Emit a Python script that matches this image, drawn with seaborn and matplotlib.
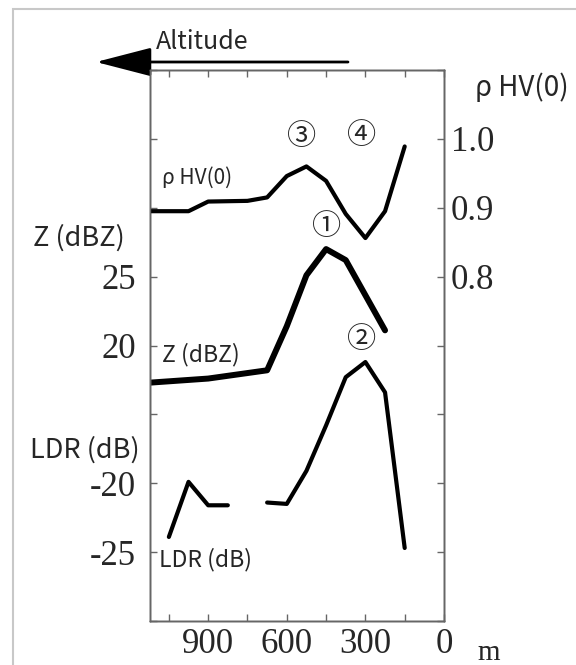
import numpy as np
import pandas as pd
import matplotlib
matplotlib.use('Agg')
import matplotlib.pyplot as plt
from matplotlib.patches import Rectangle
import seaborn as sns

# ── Data ──────────────────────────────────────────────────────────────────────
rho_alt = [1125, 975, 900, 750, 675, 600, 525, 450, 375, 300, 225, 150]
rho_val = [0.895, 0.895, 0.909, 0.910, 0.915, 0.946, 0.960, 0.939, 0.891, 0.856, 0.895, 0.989]

z_alt = [1125, 900, 675, 600, 525, 450, 375, 225]
z_val = [17.3, 17.6, 18.2, 21.4, 25.1, 27.0, 26.2, 21.1]

ldr_alt = [1050, 975, 900, 825, 675, 600, 525, 450, 375, 300, 225, 150]
ldr_val = [-23.9, -19.9, -21.6, -21.6, -21.4, -21.5, -19.1, -15.8, -12.3, -11.2, -13.4, -24.7]
ldr_seg = [1, 1, 1, 1, 2, 2, 2, 2, 2, 2, 2, 2]

x_ticks = [1050, 900, 750, 600, 450, 300, 150, 0]
x_labels = ['', '900', '', '600', '', '300', '', '0']
z_ticks = [0, 5, 10, 15, 20, 25, 30, 35, 40]
z_labels = ['', '', '', '', '20', '25', '', '', '']
ldr_ticks = [-25, -20]
rho_ticks = [0.3, 0.4, 0.5, 0.6, 0.7, 0.8, 0.9, 1.0, 1.1]
rho_labels = ['', '', '', '', '', '0.8', '0.9', '1.0', '']

rho_df = pd.DataFrame({'alt': rho_alt, 'rho': rho_val})
z_df = pd.DataFrame({'alt': z_alt, 'z': z_val})
ldr_df = pd.DataFrame({'alt': ldr_alt, 'ldr': ldr_val, 'seg': ldr_seg})

# ── Style ─────────────────────────────────────────────────────────────────────
sns.set_theme(style='ticks')
plt.rcParams['font.family'] = ['Noto Sans CJK JP', 'DejaVu Sans']
SERIF = ['Liberation Serif', 'DejaVu Serif']
SPINE = '#666666'
TICK_FS = 25

fig = plt.figure(figsize=(5.76, 6.65), dpi=100)
fig.patch.set_facecolor('white')
ax = fig.add_axes([150 / 576, 44 / 665, 294 / 576, 551 / 665])
ax_ldr = ax.twinx()
ax_rho = ax.twinx()

sns.lineplot(data=z_df, x='alt', y='z', ax=ax, color='black', lw=4.3,
             estimator=None, sort=False)
sns.lineplot(data=ldr_df, x='alt', y='ldr', units='seg', estimator=None,
             sort=False, ax=ax_ldr, color='black', lw=3.0)
sns.lineplot(data=rho_df, x='alt', y='rho', ax=ax_rho, color='black', lw=3.0,
             estimator=None, sort=False)

ax.set_xlim(1122, 0)
ax.set_ylim(0, 40)
ax_ldr.set_ylim(-30, 10)
ax_rho.set_ylim(0.3, 1.1)
for a in (ax, ax_ldr, ax_rho):
    a.set_xlabel('')
    a.set_ylabel('')
    a.set_facecolor('none')

ax.set_xticks(x_ticks)
ax.set_xticklabels(x_labels, family=SERIF, fontsize=TICK_FS)
ax.set_yticks(z_ticks)
ax.set_yticklabels(z_labels, family=SERIF, fontsize=TICK_FS)
ax.tick_params(axis='x', direction='in', length=5, width=1, color=SPINE,
               top=True, pad=5)
ax.tick_params(axis='y', direction='in', length=5, width=1, color=SPINE, pad=10)

ax_ldr.yaxis.tick_left()
ax_ldr.set_yticks(ldr_ticks)
ax_ldr.set_yticklabels([str(t) for t in ldr_ticks], family=SERIF, fontsize=TICK_FS)
ax_ldr.tick_params(axis='y', length=0, pad=10)

ax_rho.set_yticks(rho_ticks)
ax_rho.set_yticklabels(rho_labels, family=SERIF, fontsize=TICK_FS)
ax_rho.tick_params(axis='y', direction='in', length=5, width=1, color=SPINE, pad=5)

for a in (ax, ax_ldr, ax_rho):
    for s in a.spines.values():
        s.set_color(SPINE)
        s.set_linewidth(1.0)

# ── Labels ────────────────────────────────────────────────────────────────────
circ = dict(transform=ax.transAxes, ha='center', va='center', fontsize=21,
            family=['Noto Sans CJK JP', 'DejaVu Sans'])
ax.text(0.514, 0.878, '③', **circ)
ax.text(0.721, 0.880, '④', **circ)
ax.text(0.602, 0.715, '①', **circ)
ax.text(0.721, 0.510, '②', **circ)

inner = dict(transform=ax.transAxes, ha='center', va='center', fontsize=16.5)
ax.text(0.160, 0.804, 'ρ HV(0)', transform=ax.transAxes, ha='center',
        va='center', fontsize=15)
ax.text(0.173, 0.483, 'Z (dBZ)', **inner)
ax.text(0.190, 0.111, 'LDR (dB)', **inner)

fig.text(156 / 576, 1 - 42 / 665, 'Altitude', ha='left', va='center', fontsize=18)
fig.text(522 / 576, 1 - 88 / 665, 'ρ HV(0)', ha='center', va='center', fontsize=20)
fig.text(79 / 576, 1 - 238 / 665, 'Z (dBZ)', ha='center', va='center', fontsize=19.5)
fig.text(85 / 576, 1 - 450 / 665, 'LDR (dB)', ha='center', va='center', fontsize=19.5)
fig.text(489 / 576, 5 / 665, 'm', ha='center', va='baseline', fontsize=21,
         family=SERIF)

# altitude arrow
ax.annotate('', xy=(96, 665 - 62), xytext=(348, 665 - 62),
            xycoords='figure pixels', textcoords='figure pixels',
            arrowprops=dict(arrowstyle='-|>,head_length=2.9,head_width=0.75',
                            lw=2, color='black', shrinkA=0, shrinkB=0))

# light outer frame (only top/left visible)
fig.patches.append(Rectangle((13 / 576, -0.1), 1.2, 1 - 9 / 665 + 0.1,
                             transform=fig.transFigure, fill=False,
                             edgecolor='#c8c8c8', lw=1.5))

fig.savefig('out.png', dpi=100)
